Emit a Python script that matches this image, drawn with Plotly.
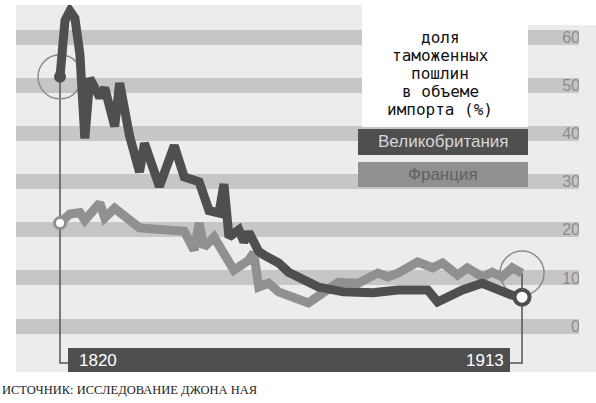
import plotly.graph_objects as go

# data (vertices of each line)
uk_years = [1820, 1821, 1822, 1823, 1824, 1825, 1826, 1828, 1829, 1831, 1832, 1834,
            1836, 1837, 1840, 1843, 1845, 1848, 1850, 1852, 1853, 1854, 1856, 1857,
            1858, 1860, 1861, 1864, 1866, 1872, 1877, 1883, 1888, 1894, 1896, 1901,
            1905, 1907, 1911, 1913]
uk_values = [51.8, 63.5, 65.5, 64.0, 56.5, 39.0, 51.5, 47.5, 49.5, 41.5, 50.5, 39.5,
             32.0, 38.0, 29.0, 37.5, 31.0, 30.0, 24.0, 23.5, 29.5, 18.5, 20.0, 17.5,
             19.5, 15.5, 14.8, 13.1, 11.2, 8.1, 7.1, 6.9, 7.5, 7.5, 5.0, 7.5,
             8.9, 7.9, 6.4, 6.0]

fr_years = [1820, 1822, 1824, 1825, 1828, 1829, 1831, 1836, 1845, 1847, 1848, 1849,
            1851, 1854, 1855, 1858, 1859, 1860, 1862, 1864, 1870, 1876, 1880, 1884,
            1886, 1888, 1892, 1895, 1897, 1900, 1902, 1905, 1907, 1909, 1911, 1913]
fr_values = [21.4, 23.3, 23.6, 22.0, 25.6, 22.5, 24.5, 20.4, 19.7, 15.8, 21.4, 16.4,
             18.5, 13.3, 11.6, 13.7, 15.2, 8.1, 8.9, 7.1, 4.8, 9.1, 8.9, 11.0,
             10.2, 11.0, 13.3, 12.1, 13.1, 10.6, 12.1, 10.2, 11.2, 10.2, 12.1, 11.0]

tick_vals = [0, 10, 20, 30, 40, 50, 60]
series_names = ["Великобритания", "Франция"]
title_lines = ["доля", "таможенных", "пошлин", "в объеме", "импорта (%)"]
start_label = "1820"
end_label = "1913"
source = "ИСТОЧНИК: ИССЛЕДОВАНИЕ ДЖОНА НАЯ"

W, H = 596, 403
L, R, T, B = 16, 13, 5, 31
X0, X1 = 1811.14, 1925.27
Y0, Y1 = -9.56, 66.74

DARK = "#4f4f4f"
MID = "#909090"
BAND = "#c6c6c6"
BG = "#ececec"


# pixel position -> paper fraction
def px(x):
    return (x - L) / (W - L - R)


def py(y):
    return (H - B - y) / (H - T - B)


# pixel position -> data value
def xv(x):
    return X0 + px(x) * (X1 - X0)


def yv(y):
    return Y0 + py(y) * (Y1 - Y0)


fig = go.Figure()

fig.add_trace(go.Scatter(x=fr_years, y=fr_values, mode="lines",
                         line=dict(color=MID, width=9)))
fig.add_trace(go.Scatter(x=uk_years, y=uk_values, mode="lines",
                         line=dict(color=DARK, width=9)))
fig.add_trace(go.Scatter(x=[fr_years[0]], y=[fr_values[0]], mode="markers",
                         marker=dict(size=11, color="white", line=dict(color=MID, width=3))))
fig.add_trace(go.Scatter(x=[uk_years[0]], y=[uk_values[0]], mode="markers",
                         marker=dict(size=12, color=DARK)))
fig.add_trace(go.Scatter(x=[uk_years[-1]], y=[uk_values[-1]], mode="markers",
                         marker=dict(size=15, color="white", line=dict(color=DARK, width=4))))


def box(x0, x1, y0, y1, color):
    return dict(type="rect", xref="paper", yref="paper", x0=px(x0), x1=px(x1),
                y0=py(y1), y1=py(y0), fillcolor=color, line_width=0, layer="above")


shapes = [
    box(362, 528, -5, 127, "white"),   # behind the title
    box(528, 600, -5, 25, "white"),    # corner above the tick column
    box(579, 600, 25, 372, BG),        # bands stop short of the right edge
    box(358, 528, 129, 155, DARK),     # legend: UK
    box(358, 528, 162, 187, MID),      # legend: France
    box(68, 510, 348, 372, DARK),      # year bar
]

# connectors from the end points to the year bar
ylow = yv(363)
shapes.append(dict(type="path", xref="x", yref="y", layer="between",
                   path=f"M {uk_years[0]},{uk_values[0]} L {uk_years[0]},{ylow} L {xv(68)},{ylow}",
                   line=dict(color="#555555", width=1.5)))
shapes.append(dict(type="path", xref="x", yref="y", layer="between",
                   path=f"M {fr_years[-1]},{fr_values[-1]} L {fr_years[-1]},{ylow} L {xv(510)},{ylow}",
                   line=dict(color="#555555", width=1.5)))

# highlight rings
for xa, ya in [(uk_years[0], uk_values[0]), (fr_years[-1], fr_values[-1])]:
    shapes.append(dict(type="circle", xref="x", yref="y", xsizemode="pixel", ysizemode="pixel",
                       xanchor=xa, yanchor=ya, x0=-22, x1=22, y0=-22, y1=22,
                       line=dict(color="#8a8a8a", width=1.5), layer="between"))

annotations = []
for i, line in enumerate(title_lines):
    annotations.append(dict(text=line, xref="paper", yref="paper", x=px(440), y=py(37 + 18 * i),
                            showarrow=False, xanchor="center", yanchor="middle", height=18,
                            font=dict(family="DejaVu Sans Mono", size=16, color="#111111")))
annotations.append(dict(text=series_names[0], xref="paper", yref="paper", x=px(443), y=py(142),
                        showarrow=False, xanchor="center", yanchor="middle",
                        font=dict(family="Liberation Sans", size=17, color="#d6d6d6")))
annotations.append(dict(text=series_names[1], xref="paper", yref="paper", x=px(443), y=py(175),
                        showarrow=False, xanchor="center", yanchor="middle",
                        font=dict(family="Liberation Sans", size=17, color="#606060")))
annotations.append(dict(text=start_label, xref="paper", yref="paper", x=px(77), y=py(360),
                        showarrow=False, xanchor="left", yanchor="middle",
                        font=dict(family="Liberation Sans", size=17, color="white")))
annotations.append(dict(text=end_label, xref="paper", yref="paper", x=px(506), y=py(360),
                        showarrow=False, xanchor="right", yanchor="middle",
                        font=dict(family="Liberation Sans", size=17, color="white")))
annotations.append(dict(text=source, xref="paper", yref="paper", x=px(0), y=py(390),
                        showarrow=False, xanchor="left", yanchor="middle",
                        font=dict(family="Liberation Serif", size=12.5, color="#222222")))

fig.update_layout(
    width=W, height=H,
    margin=dict(l=L, r=R, t=T, b=B),
    paper_bgcolor="white",
    plot_bgcolor=BG,
    showlegend=False,
    hovermode=False,
    shapes=shapes,
    annotations=annotations,
    xaxis=dict(range=[X0, X1], visible=False),
    yaxis=dict(range=[Y0, Y1], side="right", tickvals=tick_vals, ticklabelposition="inside",
               ticks="", showgrid=True, gridcolor=BAND, gridwidth=15, zeroline=False,
               showline=False, tickfont=dict(family="Liberation Sans", size=16, color="#8c8c8c")),
)

fig.write_html("out.html", config={"displayModeBar": False},
               post_script="document.body.style.margin = '0';")
